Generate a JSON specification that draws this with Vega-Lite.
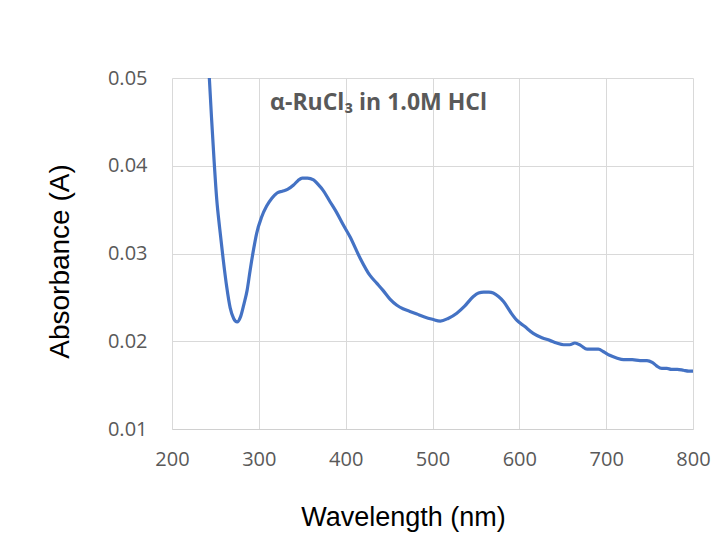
{
  "$schema": "https://vega.github.io/schema/vega-lite/v6.json",
  "width": 521,
  "height": 351,
  "autosize": "none",
  "padding": {"left": 172, "top": 78, "right": 24, "bottom": 121},
  "background": "white",
  "config": {"view": {"stroke": null}},
  "datasets": {
    "spectrum": [
      {"wl": 243, "abs": 0.0500},
      {"wl": 245.5, "abs": 0.0455},
      {"wl": 248.4, "abs": 0.0407},
      {"wl": 251.5, "abs": 0.0362},
      {"wl": 255, "abs": 0.0328},
      {"wl": 259, "abs": 0.0293},
      {"wl": 263, "abs": 0.0262},
      {"wl": 267, "abs": 0.0238},
      {"wl": 271, "abs": 0.0226},
      {"wl": 275, "abs": 0.0222},
      {"wl": 279, "abs": 0.0228},
      {"wl": 283, "abs": 0.0243},
      {"wl": 286.5, "abs": 0.0258},
      {"wl": 290, "abs": 0.0281},
      {"wl": 294, "abs": 0.0305},
      {"wl": 297.5, "abs": 0.0323},
      {"wl": 303, "abs": 0.0341},
      {"wl": 309, "abs": 0.0354},
      {"wl": 315, "abs": 0.0363},
      {"wl": 321, "abs": 0.0369},
      {"wl": 327, "abs": 0.0371},
      {"wl": 333, "abs": 0.0373},
      {"wl": 340, "abs": 0.0378},
      {"wl": 345, "abs": 0.0383},
      {"wl": 350, "abs": 0.0386},
      {"wl": 356, "abs": 0.0386},
      {"wl": 363, "abs": 0.0384},
      {"wl": 368, "abs": 0.0379},
      {"wl": 374, "abs": 0.0372},
      {"wl": 382, "abs": 0.0359},
      {"wl": 390, "abs": 0.0346},
      {"wl": 397, "abs": 0.0333},
      {"wl": 405, "abs": 0.0319},
      {"wl": 416, "abs": 0.0296},
      {"wl": 428, "abs": 0.0275},
      {"wl": 436, "abs": 0.0266},
      {"wl": 443, "abs": 0.0258},
      {"wl": 451, "abs": 0.0248},
      {"wl": 459, "abs": 0.0241},
      {"wl": 466, "abs": 0.0237},
      {"wl": 474, "abs": 0.0234},
      {"wl": 482, "abs": 0.0231},
      {"wl": 490, "abs": 0.0228},
      {"wl": 500, "abs": 0.0225},
      {"wl": 509, "abs": 0.0223},
      {"wl": 518, "abs": 0.0226},
      {"wl": 528, "abs": 0.0232},
      {"wl": 537, "abs": 0.0240},
      {"wl": 547, "abs": 0.0251},
      {"wl": 553, "abs": 0.0255},
      {"wl": 559, "abs": 0.0256},
      {"wl": 565, "abs": 0.0256},
      {"wl": 570, "abs": 0.0255},
      {"wl": 576, "abs": 0.0251},
      {"wl": 582, "abs": 0.0245},
      {"wl": 590, "abs": 0.0233},
      {"wl": 597, "abs": 0.0224},
      {"wl": 606, "abs": 0.0217},
      {"wl": 616, "abs": 0.0209},
      {"wl": 626, "abs": 0.0204},
      {"wl": 635, "abs": 0.0201},
      {"wl": 643, "abs": 0.0198},
      {"wl": 651, "abs": 0.0196},
      {"wl": 658, "abs": 0.0196},
      {"wl": 664, "abs": 0.0198},
      {"wl": 671, "abs": 0.0195},
      {"wl": 678, "abs": 0.0191},
      {"wl": 685, "abs": 0.0191},
      {"wl": 691, "abs": 0.0191},
      {"wl": 697, "abs": 0.0188},
      {"wl": 704, "abs": 0.0184},
      {"wl": 712, "abs": 0.0181},
      {"wl": 720, "abs": 0.0179},
      {"wl": 730, "abs": 0.0179},
      {"wl": 739, "abs": 0.0178},
      {"wl": 747, "abs": 0.0178},
      {"wl": 753, "abs": 0.0176},
      {"wl": 758, "abs": 0.0172},
      {"wl": 764, "abs": 0.0169},
      {"wl": 770, "abs": 0.0169},
      {"wl": 775, "abs": 0.0168},
      {"wl": 782, "abs": 0.0168},
      {"wl": 789, "abs": 0.0167},
      {"wl": 795, "abs": 0.0166},
      {"wl": 800, "abs": 0.0166}
    ],
    "label": [
      {"wl": 313, "abs": 0.0472, "text": "α-RuCl₃ in 1.0M HCl"}
    ]
  },
  "layer": [
    {
      "data": {"name": "spectrum"},
      "mark": {"type": "line", "color": "#4472C4", "strokeWidth": 3.2, "clip": true, "interpolate": "monotone"},
      "encoding": {
        "x": {
          "field": "wl", "type": "quantitative",
          "scale": {"domain": [200, 800], "nice": false, "zero": false},
          "axis": {
            "title": "Wavelength (nm)",
            "values": [200, 300, 400, 500, 600, 700, 800],
            "grid": true, "gridColor": "#d9d9d9", "gridWidth": 1,
            "domain": true, "domainColor": "#d0d0d0", "domainWidth": 1,
            "ticks": false, "labelFlush": false,
            "labelFont": "Open Sans", "labelFontSize": 20, "labelColor": "#595959",
            "labelPadding": 20,
            "titleFont": "Liberation Sans", "titleFontSize": 27, "titleFontWeight": "normal", "titleColor": "#000000",
            "titlePadding": 35,
            "titleX": 231, "titleAlign": "center"
          }
        },
        "y": {
          "field": "abs", "type": "quantitative",
          "scale": {"domain": [0.01, 0.05], "nice": false, "zero": false},
          "axis": {
            "title": "Absorbance (A)",
            "values": [0.01, 0.02, 0.03, 0.04, 0.05],
            "format": ".2f",
            "grid": true, "gridColor": "#d9d9d9", "gridWidth": 1,
            "domain": false, "ticks": false, "labelFlush": false,
            "labelFont": "Open Sans", "labelFontSize": 20, "labelColor": "#595959",
            "labelPadding": 25,
            "titleFont": "Liberation Sans", "titleFontSize": 28, "titleFontWeight": "normal", "titleColor": "#000000",
            "titlePadding": 33,
            "titleY": 183, "titleAlign": "center"
          }
        }
      }
    },
    {
      "data": {"name": "label"},
      "mark": {"type": "text", "align": "left", "baseline": "middle", "font": "Open Sans", "fontWeight": "bold", "fontSize": 23, "color": "#595959"},
      "encoding": {
        "x": {"field": "wl", "type": "quantitative"},
        "y": {"field": "abs", "type": "quantitative"},
        "text": {"field": "text"}
      }
    }
  ]
}
